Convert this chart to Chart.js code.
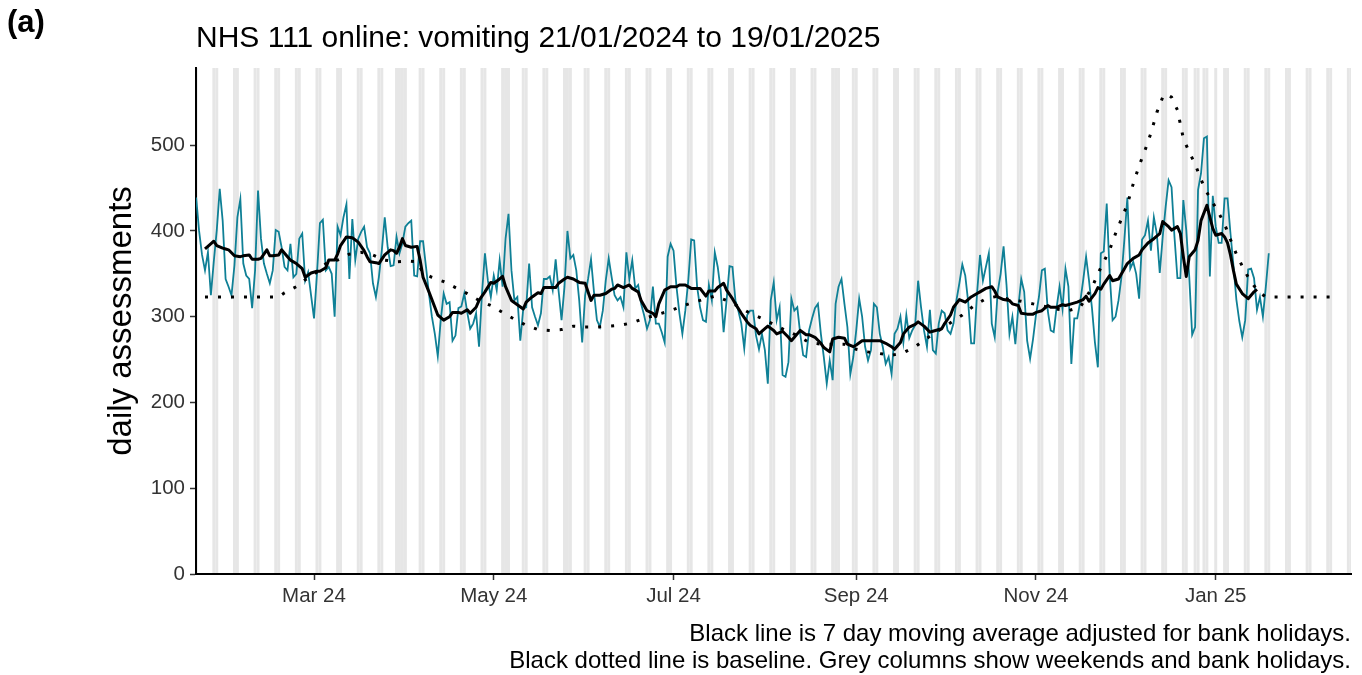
<!DOCTYPE html>
<html>
<head>
<meta charset="utf-8">
<script src="https://cdn.jsdelivr.net/npm/chart.js@4.4.1/dist/chart.umd.min.js"></script>
<style>
  html, body { margin:0; padding:0; background:#fff; }
  #wrap { position:relative; width:1362px; height:675px; }
  #tag { position:absolute; left:7px; top:4px; font: bold 31px 'Liberation Sans', Arial, sans-serif; line-height:36px; color:#000; }
</style>
</head>
<body>
<div id="wrap">
  <canvas id="c" width="1362" height="675"></canvas>
  <div id="tag">(a)</div>
</div>
<script>
// ---- DATA (day index 0 = 21/01/2024) ----
const startDate = '2024-01-21';
const titleText = 'NHS 111 online: vomiting 21/01/2024 to 19/01/2025';
const yAxisTitle = 'daily assessments';
const captionLines = [
  'Black line is 7 day moving average adjusted for bank holidays.',
  'Black dotted line is baseline. Grey columns show weekends and bank holidays.'
];
const tickDates = ['2024-03-01','2024-05-01','2024-07-01','2024-09-01','2024-11-01','2025-01-01'];
const tickLabels = ['Mar 24','May 24','Jul 24','Sep 24','Nov 24','Jan 25'];
const yTicks = [0,100,200,300,400,500];
const bankHolidays = ['2024-03-29','2024-04-01','2024-05-06','2024-05-27','2024-08-26','2024-12-25','2024-12-26','2025-01-01'];
const greyEndDate = '2025-02-16';

// daily assessments, one value per day from 21/01/2024 to 19/01/2025
const dailyAssessments = [
439,400,372,354,375,325,365,401,449,412,344,335,325,360,416,437,362,348,344,310,
354,447,391,362,350,339,354,401,399,381,358,354,385,346,350,391,397,342,352,325,
298,350,409,413,354,358,350,300,405,395,416,431,344,414,366,391,399,405,381,374,
339,323,346,377,416,381,359,360,393,374,386,405,409,412,348,347,388,388,358,327,
300,280,254,296,327,315,317,272,278,310,312,327,305,286,292,304,265,327,374,342,
323,348,331,366,335,391,420,354,319,323,272,309,311,362,311,300,290,304,344,344,
347,331,367,330,296,335,400,368,372,354,319,270,325,344,367,329,296,288,307,342,
368,346,325,319,323,311,375,344,366,333,337,315,302,286,296,335,292,292,282,270,
370,385,377,335,304,280,307,342,390,389,335,311,296,294,337,319,375,358,331,282,
319,359,358,319,307,292,263,302,307,307,278,262,280,261,222,319,340,296,311,232,
230,247,321,307,311,280,255,253,284,298,310,315,280,253,222,249,226,315,335,344,
315,288,233,253,284,321,300,265,249,261,315,311,280,265,245,253,233,280,286,300,
270,302,275,284,290,342,311,284,265,308,261,257,292,307,304,284,280,292,319,339,
361,348,317,269,269,327,372,342,358,374,292,276,329,350,382,337,280,300,268,311,
344,329,272,251,274,302,323,354,356,307,284,282,311,335,309,356,335,245,298,298,
317,342,370,342,310,270,241,374,376,432,350,296,300,319,346,390,439,356,364,350,
321,390,395,412,377,416,397,351,393,428,459,451,393,345,345,436,401,347,279,288,
448,467,508,510,347,441,405,386,386,438,438,397,360,320,295,276,296,355,356,345,
308,323,300,335,374
];

// 7 day moving average, read as [day, value]
const movingAverage = [
[3,379],[4,382],[6,388],[7,383],[9,380],[10,379],[11,378],[13,371],[15,370],[16,371],[18,372],[19,367],[21,367],[22,368],
[24,378],[25,371],[26,371],[28,372],[29,378],[31,370],[32,366],[34,362],[36,356],[37,346],[39,351],[41,353],[42,353],
[44,357],[45,366],[47,366],[48,373],[49,383],[51,393],[53,392],[55,387],[57,377],[58,370],[59,364],[61,363],[62,362],
[64,372],[66,378],[67,377],[68,374],[69,381],[70,391],[71,383],[73,381],[75,382],[76,366],[77,346],[79,329],[81,311],
[82,302],[84,296],[86,300],[87,305],[89,305],[90,304],[92,308],[93,304],[95,311],[96,319],[98,329],[100,340],[101,339],
[103,344],[104,347],[105,335],[107,319],[109,314],[111,309],[112,317],[114,323],[116,328],[117,327],[118,334],[120,334],
[122,334],[123,339],[125,344],[126,346],[128,344],[130,340],[132,339],[134,319],[135,325],[137,325],[139,327],[141,332],
[142,333],[143,337],[145,334],[147,337],[148,333],[150,329],[151,319],[153,307],[155,304],[156,300],[157,315],[159,331],
[161,335],[163,335],[164,337],[166,337],[168,333],[169,333],[171,333],[173,324],[174,330],[176,330],[177,334],[179,339],
[180,331],[182,321],[183,315],[185,304],[187,294],[188,290],[190,286],[191,280],[193,286],[194,289],[196,284],[197,280],
[199,283],[201,276],[202,272],[204,280],[205,284],[207,279],[208,279],[210,276],[212,269],[213,264],[215,259],[216,274],
[218,276],[220,275],[221,268],[223,265],[224,267],[226,272],[227,272],[229,272],[230,272],[232,272],[234,269],[236,265],
[237,262],[239,270],[240,280],[242,288],[244,291],[245,294],[247,289],[249,282],[250,283],[253,286],[254,292],[256,302],
[257,311],[259,320],[261,317],[263,323],[265,327],[266,329],[268,333],[270,335],[271,330],[272,323],[274,320],[276,319],
[277,315],[279,313],[280,304],[282,303],[284,303],[285,305],[287,307],[289,313],[290,311],[292,311],[294,314],[295,313],
[297,315],[299,317],[301,320],[302,324],[303,318],[305,327],[306,334],[307,332],[308,338],[310,348],[311,342],[313,344],
[315,356],[316,362],[318,368],[320,372],[321,378],[323,386],[325,391],[327,397],[328,411],[330,405],[331,401],[333,405],
[334,397],[335,370],[336,347],[337,370],[339,378],[340,389],[341,412],[343,430],[344,416],[345,403],[346,395],[348,397],
[349,393],[350,386],[351,372],[352,354],[353,338],[355,327],[357,321],[358,325],[359,329],[360,332]
];

// baseline, read as [day, value]
const baseline = [
[3,323],[28,323],[30,328],[34,335],[37,343],[41,352],[45,365],[48,366],[52,373],[56,375],[60,372],[64,366],[68,364],
[72,365],[75,364],[77,351],[80,346],[84,341],[88,334],[92,327],[96,319],[100,313],[104,305],[108,297],[112,290],[116,285],
[120,284],[124,285],[128,289],[132,288],[136,288],[140,289],[144,290],[148,293],[152,298],[156,302],[160,306],[164,311],
[168,316],[172,320],[176,324],[180,319],[184,312],[188,304],[192,298],[196,291],[200,284],[204,278],[208,270],[212,268],
[216,268],[220,268],[224,262],[228,259],[232,257],[236,255],[240,258],[244,265],[248,275],[252,284],[256,293],[260,302],
[264,313],[268,321],[272,324],[276,320],[280,318],[284,315],[288,312],[292,309],[296,307],[300,311],[304,334],[306,350],
[308,364],[310,378],[312,397],[314,414],[316,431],[318,455],[320,476],[322,494],[324,514],[326,538],[328,556],[329,560],
[331,556],[333,541],[335,508],[337,492],[339,478],[341,460],[343,445],[345,433],[347,421],[349,408],[351,390],[353,373],
[355,359],[357,346],[359,336],[361,328],[363,323],[385,323]
];

// ---- helpers ----
const FONT = "'Liberation Sans', Arial, sans-serif";
const DAY = 86400000;
const t0 = Date.parse(startDate + 'T00:00:00Z');
const dayIndex = s => Math.round((Date.parse(s + 'T00:00:00Z') - t0) / DAY);
const tickDays = tickDates.map(dayIndex);
const greyDays = [];
const lastGrey = dayIndex(greyEndDate);
const bh = new Set(bankHolidays.map(dayIndex));
for (let d = 0; d <= lastGrey; d++) {
  const wd = new Date(t0 + d * DAY).getUTCDay();
  if (wd === 0 || wd === 6 || bh.has(d)) greyDays.push(d);
}

const greyPlugin = {
  id: 'greyColumns',
  beforeDraw(chart) {
    const {ctx, chartArea: {left, right, top, bottom}, scales: {x}} = chart;
    ctx.save();
    ctx.beginPath();
    ctx.rect(left, top, right - left, bottom - top);
    ctx.clip();
    ctx.fillStyle = '#e6e6e6';
    greyDays.forEach(d => {
      const x0 = x.getPixelForValue(d - 0.5), x1 = x.getPixelForValue(d + 0.5);
      ctx.fillRect(x0, top, x1 - x0, bottom - top);
    });
    ctx.restore();
  }
};

new Chart(document.getElementById('c'), {
  type: 'line',
  data: {
    datasets: [
      { label: 'baseline', data: baseline.map(p => ({x: p[0], y: p[1]})),
        borderColor: '#000', borderWidth: 3, borderDash: [3, 10], pointRadius: 0, order: 0 },
      { label: '7 day moving average', data: movingAverage.map(p => ({x: p[0], y: p[1]})),
        borderColor: '#000', borderWidth: 3, pointRadius: 0, order: 1, borderJoinStyle: 'round' },
      { label: 'daily', data: dailyAssessments.map((v, i) => ({x: i, y: v})),
        borderColor: '#0f8096', borderWidth: 1.8, pointRadius: 0, order: 2 }
    ]
  },
  options: {
    responsive: false,
    animation: false,
    devicePixelRatio: 1,
    layout: { padding: { left: 0, right: 11, top: 0, bottom: 0 } },
    elements: { line: { tension: 0 } },
    plugins: {
      legend: { display: false },
      tooltip: { enabled: false },
      title: {
        display: true, text: titleText, align: 'start', fullSize: false,
        color: '#000', font: { family: FONT, size: 30, weight: 'normal', lineHeight: 1.2 },
        padding: { top: 21, bottom: 11 }
      }
    },
    scales: {
      x: {
        type: 'linear', min: -0.05, max: 391.9,
        afterBuildTicks: s => { s.ticks = tickDays.map(v => ({value: v})); },
        afterFit: s => { s.height = 101; },
        grid: { display: true, drawOnChartArea: false, drawTicks: true, tickLength: 6, tickColor: '#333', tickWidth: 1.5 },
        border: { display: true, color: '#000', width: 2 },
        ticks: { autoSkip: false, maxRotation: 0, padding: 4, color: '#333',
          font: { family: FONT, size: 20.5 },
          callback: (v, i) => tickLabels[i] },
        title: { display: true, text: captionLines, align: 'end', color: '#000',
          font: { family: FONT, size: 24, lineHeight: 1.125 }, padding: { top: 0, bottom: 0.5 } }
      },
      y: {
        min: 0, max: 590,
        afterBuildTicks: s => { s.ticks = yTicks.map(v => ({value: v})); },
        afterFit: s => { s.width = 196; },
        grid: { display: true, drawOnChartArea: false, drawTicks: true, tickLength: 6, tickColor: '#333', tickWidth: 1.5 },
        border: { display: true, color: '#000', width: 2 },
        ticks: { padding: 5, color: '#333', font: { family: FONT, size: 20.5 } },
        title: { display: true, text: yAxisTitle, color: '#000',
          font: { family: FONT, size: 33, lineHeight: 1.2 }, padding: { top: 102, bottom: 0 } }
      }
    }
  },
  plugins: [greyPlugin]
});
</script>
</body>
</html>
